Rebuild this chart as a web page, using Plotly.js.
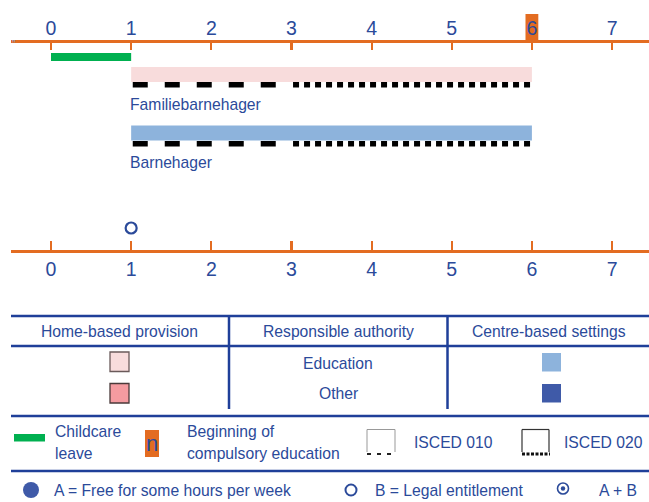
<!DOCTYPE html>
<html>
<head>
<meta charset="utf-8">
<script src="https://cdn.plot.ly/plotly-3.0.1.min.js"></script>
<style>html,body{margin:0;padding:0;background:#fff;}#chart{width:649px;height:502px;}</style>
</head>
<body>
<div id="chart"></div>
<script>
// ---- data ----
const years = [0, 1, 2, 3, 4, 5, 6, 7];
const settings = ['Familiebarnehager', 'Barnehager'];
const settingStart = [1, 1];
const settingEnd = [6, 6];
const iscedSplit = [3, 3];           // ISCED 010 until this age, ISCED 020 after
const childcareLeave = [0, 1];       // start, end (years)
const compulsoryAge = 6;
const legalEntitlementAge = [1];
const tableHeaders = ['Home-based provision', 'Responsible authority', 'Centre-based settings'];
const authorities = ['Education', 'Other'];
const legendRow1 = ['Childcare', 'leave', 'Beginning of', 'compulsory education', 'ISCED 010', 'ISCED 020'];
const legendRow2 = ['A = Free for some hours per week', 'B = Legal entitlement', 'A + B'];

// ---- style ----
const FONT = '"Liberation Sans Narrow", "Arial Narrow", "Liberation Sans", Arial, sans-serif';
const BLUE_TXT = '#2b4a9a';
const ORANGE = '#e36c21';
const LINE_BLUE = '#1f3f99';
const PINK_L = '#f8dcdc', PINK_D = '#f49ba0';
const BLUE_L = '#8db3dc', BLUE_D = '#3f5aa8';
const GREEN = '#00b050';
const W = 649, H = 502;
const TS = 15.7;
const px = x => x / W;

// row layout (pixel y positions)
const barY = [74.5, 133];
const dashY = [84.8, 143.7];
const labelY = [104.5, 162];
const barColors = [PINK_L, BLUE_L];
const circleY = 228;

const traces = [];
// childcare leave
traces.push({x: childcareLeave, y: [57, 57], mode: 'lines', line: {color: GREEN, width: 8}, hoverinfo: 'skip', showlegend: false});
settings.forEach((s, i) => {
  traces.push({x: [settingStart[i], settingEnd[i]], y: [barY[i], barY[i]], mode: 'lines',
    line: {color: barColors[i], width: 15}, hoverinfo: 'skip', showlegend: false});
  traces.push({x: [settingStart[i] + 0.02, iscedSplit[i]], y: [dashY[i], dashY[i]], mode: 'lines',
    line: {color: '#000', width: 5.5, dash: '15px,17px'}, hoverinfo: 'skip', showlegend: false});
  traces.push({x: [iscedSplit[i] + 0.02, settingEnd[i]], y: [dashY[i], dashY[i]], mode: 'lines',
    line: {color: '#000', width: 5.5, dash: '6px,5px'}, hoverinfo: 'skip', showlegend: false});
});
// legal entitlement marker
traces.push({x: legalEntitlementAge, y: legalEntitlementAge.map(() => circleY), mode: 'markers',
  marker: {symbol: 'circle-open', size: 11, color: BLUE_TXT, line: {width: 2.2, color: BLUE_TXT}},
  hoverinfo: 'skip', showlegend: false});
// dummy trace to activate xaxis2
traces.push({x: [0], y: [-100], xaxis: 'x2', mode: 'markers', marker: {opacity: 0}, hoverinfo: 'skip', showlegend: false});

const annotations = [];
function txt(text, x, y, size, xanchor, extra) {
  annotations.push(Object.assign({text: text, xref: 'paper', yref: 'y', x: px(x), y: y,
    xanchor: xanchor || 'left', yanchor: 'middle', showarrow: false,
    font: {family: FONT, size: size, color: BLUE_TXT}}, extra || {}));
}
settings.forEach((s, i) => {
  annotations.push({text: s, xref: 'x', yref: 'y', x: settingStart[i], y: labelY[i], xanchor: 'left',
    xshift: -3, yanchor: 'middle', showarrow: false, font: {family: FONT, size: TS, color: BLUE_TXT}});
});
txt('\u201D', 10, 44, 10, 'left', {font: {family: FONT, size: 10, color: '#8aa0d0'}});
// table
txt(tableHeaders[0], 119.5, 331.5, TS, 'center');
txt(tableHeaders[1], 338, 331.5, TS, 'center');
txt(tableHeaders[2], 549, 331.5, TS, 'center');
txt(authorities[0], 338, 363, TS, 'center');
txt(authorities[1], 338, 393, TS, 'center');
// legend
txt(legendRow1[0], 53, 431.5, TS);
txt(legendRow1[1], 53, 453, TS);
txt('n', 152, 443, 22, 'center');
txt(legendRow1[2], 185, 431.5, TS);
txt(legendRow1[3], 185, 453, TS);
txt(legendRow1[4], 412, 442, TS);
txt(legendRow1[5], 562, 442, TS);
txt(legendRow2[0], 52, 490, TS);
txt(legendRow2[1], 373, 490, TS);
txt(legendRow2[2], 597, 490, TS);

const shapes = [];
function line(x0, y0, x1, y1, color, width, dash) {
  shapes.push({type: 'line', xref: 'paper', yref: 'y', x0: px(x0), y0: y0, x1: px(x1), y1: y1,
    line: {color: color, width: width, dash: dash || 'solid'}});
}
function rect(x0, y0, x1, y1, fill, lineColor, lw, layer) {
  shapes.push({type: 'rect', xref: 'paper', yref: 'y', x0: px(x0), y0: y0, x1: px(x1), y1: y1,
    fillcolor: fill, line: {color: lineColor || fill, width: lw || 0}, layer: layer || 'above'});
}
function circle(cx, cy, r, fill, lineColor, lw) {
  shapes.push({type: 'circle', xref: 'paper', yref: 'y', x0: px(cx - r), y0: cy - r, x1: px(cx + r), y1: cy + r,
    fillcolor: fill, line: {color: lineColor, width: lw}});
}
// compulsory education highlight behind tick label 6
shapes.push({type: 'rect', xref: 'x', yref: 'y', x0: compulsoryAge - 0.08, x1: compulsoryAge + 0.08, y0: 14, y1: 40.5,
  fillcolor: ORANGE, line: {width: 0}, layer: 'below'});
// table lines
line(11, 316, 649, 316, LINE_BLUE, 2.5);
line(11, 346, 649, 346, LINE_BLUE, 2.5);
line(229, 316, 229, 409, LINE_BLUE, 2.5);
line(447.5, 316, 447.5, 409, LINE_BLUE, 2.5);
line(11, 416, 649, 416, LINE_BLUE, 2.5);
line(11, 471, 649, 471, LINE_BLUE, 2.5);
// table swatches
rect(110, 352, 129, 371.5, PINK_L, '#6a5a5a', 1.3);
rect(110, 383.5, 129, 403, PINK_D, '#4a3a3a', 1.3);
rect(542, 353, 561, 371.5, BLUE_L);
rect(542, 384, 561, 402.5, BLUE_D);
// legend glyphs
rect(14, 434, 45, 441.5, GREEN);
rect(145, 430, 159, 457, ORANGE, null, 0, 'below');
line(367, 429.5, 395, 429.5, '#999', 1);
line(367, 429.5, 367, 452, '#999', 1);
line(395, 429.5, 395, 452, '#999', 1);
line(367, 454, 396, 454, '#222', 1.8, '4px,6px');
line(522, 429.5, 549, 429.5, '#333', 1.2);
line(522, 429.5, 522, 452, '#333', 1.2);
line(549, 429.5, 549, 452, '#333', 1.2);
line(522, 454, 550, 454, '#111', 3, '3px,1.5px');
circle(31, 490, 8, BLUE_D, BLUE_D, 0);
circle(351, 490, 5.5, 'rgba(0,0,0,0)', BLUE_TXT, 2);
circle(563, 488.5, 5.5, 'rgba(0,0,0,0)', BLUE_TXT, 1.6);
circle(563, 488.5, 2.2, BLUE_TXT, BLUE_TXT, 0);

const xr = [(11 - 51) / 80.15, (649 - 51) / 80.15];
const axisCommon = {
  domain: [11 / W, 1], range: xr, anchor: 'free', showline: true, linecolor: ORANGE, linewidth: 2.5,
  ticks: 'inside', tickcolor: ORANGE, tickwidth: 2.2, tickvals: years, ticktext: years.map(String),
  tickfont: {family: FONT, size: 19.5, color: BLUE_TXT}, showgrid: false, zeroline: false, fixedrange: true
};
const layout = {
  width: W, height: H, margin: {l: 0, r: 0, t: 0, b: 0, pad: 0},
  paper_bgcolor: '#fff', plot_bgcolor: 'rgba(0,0,0,0)', showlegend: false,
  xaxis: Object.assign({}, axisCommon, {side: 'top', position: 1 - 41 / H, ticklen: 7, ticklabelstandoff: -3}),
  xaxis2: Object.assign({}, axisCommon, {side: 'bottom', overlaying: 'x', position: 1 - 251 / H, ticklen: 9}),
  yaxis: {range: [H, 0], domain: [0, 1], visible: false, fixedrange: true},
  shapes: shapes, annotations: annotations
};
Plotly.newPlot('chart', traces, layout, {staticPlot: true, displayModeBar: false});
</script>
</body>
</html>
